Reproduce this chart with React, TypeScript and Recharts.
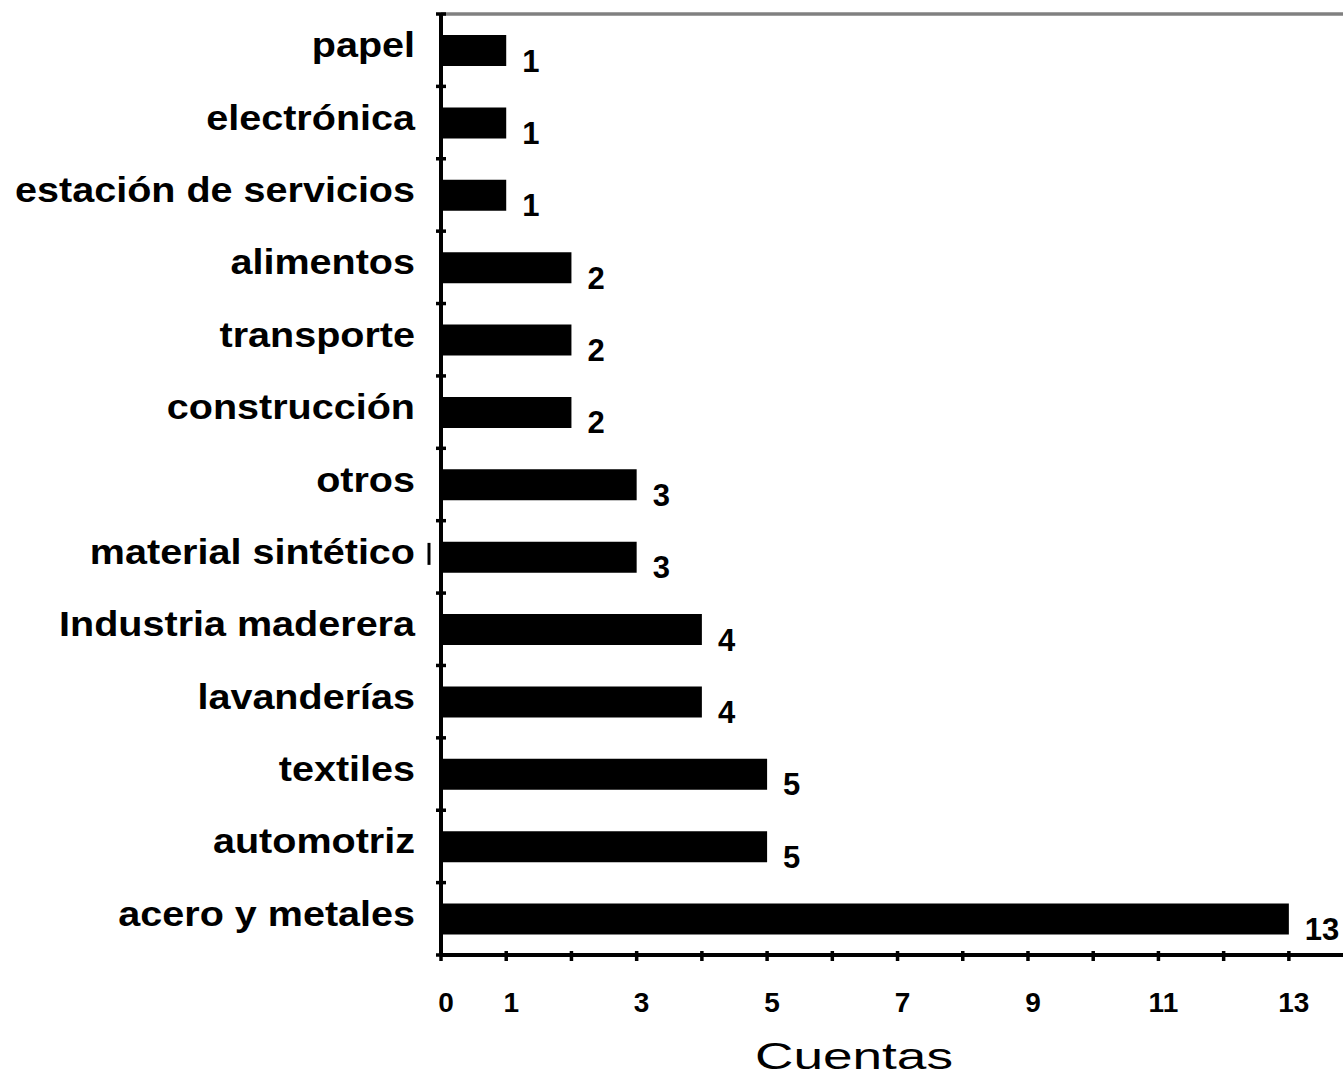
import React from 'react';
import { BarChart, Bar, XAxis, YAxis, LabelList, CartesianGrid } from 'recharts';

const categories = [
  'papel',
  'electrónica',
  'estación de servicios',
  'alimentos',
  'transporte',
  'construcción',
  'otros',
  'material sintético',
  'Industria maderera',
  'lavanderías',
  'textiles',
  'automotriz',
  'acero y metales',
];
const counts = [1, 1, 1, 2, 2, 2, 3, 3, 4, 4, 5, 5, 13];
const xTicks = [0, 1, 2, 3, 4, 5, 6, 7, 8, 9, 10, 11, 12, 13];
const labeledTicks = [0, 1, 3, 5, 7, 9, 11, 13];
const xMax = 13.83;
const axisTitle = 'Cuentas';
const markedCategory = 'material sintético';

const data = categories.map((name, i) => ({ name, value: counts[i] }));

const FONT = '"Liberation Sans", Arial, Helvetica, sans-serif';

const CategoryTick = (props: any) => {
  const { x, y, payload, index } = props;
  const half = payload && payload.offset ? payload.offset : 0;
  const axisX = x;
  const isLast = index === categories.length - 1;
  return (
    <g>
      <line x1={axisX - 5} x2={axisX + 5} y1={y - half} y2={y - half} stroke="#000" strokeWidth={3.5} />
      {isLast && (
        <line x1={axisX - 5} x2={axisX + 5} y1={y + half} y2={y + half} stroke="#000" strokeWidth={3.5} />
      )}
      <g transform={`translate(${axisX - 26},${y + 7}) scale(1.13,1)`}>
        <text
          x={0}
          y={0}
          textAnchor="end"
          fontFamily={FONT}
          fontWeight="bold"
          fontSize={35}
          fill="#000"
        >
          {payload.value}
        </text>
      </g>
      {payload.value === markedCategory && (
        <line x1={axisX - 12} x2={axisX - 12} y1={y - 14} y2={y + 8} stroke="#000" strokeWidth={3} />
      )}
    </g>
  );
};

const NumberTick = (props: any) => {
  const { x, y, payload } = props;
  const showText = labeledTicks.includes(payload.value);
  return (
    <g>
      <line x1={x} x2={x} y1={y - 4} y2={y + 6} stroke="#000" strokeWidth={3.5} />
      {showText && (
        <text
          x={x + 5}
          y={y}
          dy={57}
          textAnchor="middle"
          fontFamily={FONT}
          fontWeight="bold"
          fontSize={28}
          fill="#000"
        >
          {payload.value}
        </text>
      )}
    </g>
  );
};

const ValueLabel = (props: any) => {
  const { x, y, width, height, value } = props;
  return (
    <text
      x={x + width + 16}
      y={y + height / 2}
      dy={21}
      textAnchor="start"
      fontFamily={FONT}
      fontWeight="bold"
      fontSize={31}
      fill="#000"
    >
      {value}
    </text>
  );
};

const TitleLabel = (props: any) => {
  const vb = props.viewBox || {};
  return (
    <text
      x={vb.x + vb.width / 2 - 38}
      y={vb.y + 114}
      textAnchor="middle"
      fontFamily={FONT}
      fontSize={37}
      textLength={198}
      lengthAdjust="spacingAndGlyphs"
      fill="#000"
    >
      {axisTitle}
    </text>
  );
};

const topLine = (args: any) => [args.offset.top];

export default function App() {
  return (
    <div style={{ position: 'absolute', left: 0, top: 0, background: '#fff' }}>
      <BarChart
        width={1343}
        height={1086}
        data={data}
        layout="vertical"
        margin={{ top: 14, right: 0, left: 0, bottom: 0 }}
      >
        <CartesianGrid
          vertical={false}
          horizontal={true}
          horizontalCoordinatesGenerator={topLine}
          stroke="#808080"
          strokeWidth={3.5}
        />
        <XAxis
          type="number"
          domain={[0, xMax]}
          ticks={xTicks}
          interval={0}
          allowDataOverflow
          height={131}
          tickSize={0}
          tickMargin={0}
          tickLine={false}
          axisLine={{ stroke: '#000', strokeWidth: 4 }}
          tick={<NumberTick />}
          label={<TitleLabel />}
        />
        <YAxis
          type="category"
          dataKey="name"
          width={441}
          interval={0}
          tickSize={0}
          tickMargin={0}
          tickLine={false}
          axisLine={{ stroke: '#000', strokeWidth: 4 }}
          tick={<CategoryTick />}
        />
        <Bar dataKey="value" fill="#000" barSize={31} isAnimationActive={false}>
          <LabelList dataKey="value" content={<ValueLabel />} />
        </Bar>
      </BarChart>
    </div>
  );
}
